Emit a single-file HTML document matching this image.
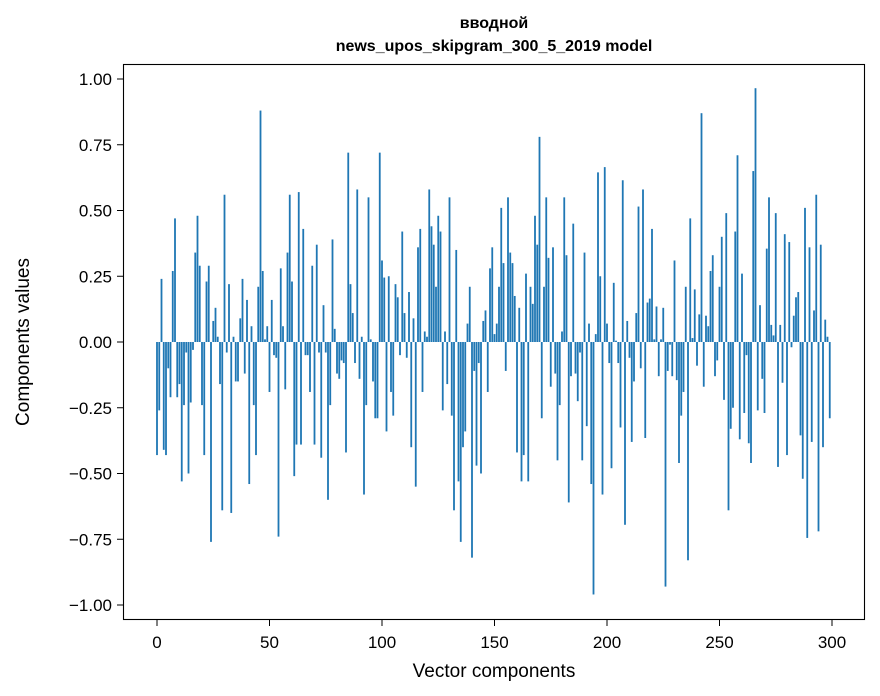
<!DOCTYPE html>
<html><head><meta charset="utf-8"><style>
html,body{margin:0;padding:0;background:#fff;}
svg{display:block;font-family:"Liberation Sans","DejaVu Sans",sans-serif;}
</style></head><body>
<svg id="chart" width="880" height="696" viewBox="0 0 880 696" xmlns="http://www.w3.org/2000/svg">
<rect width="880" height="696" fill="#fff"/>
<text x="494" y="28" text-anchor="middle" font-size="16" font-weight="bold" font-family="Liberation Sans, Noto Sans CJK SC, sans-serif">вводной</text>
<text x="494" y="51" text-anchor="middle" font-size="16" font-weight="bold">news_upos_skipgram_300_5_2019 model</text>
<g id="bars"></g>
<g id="xticks"></g>
<g id="yticks"></g>
<rect x="123.5" y="64.5" width="741" height="555" fill="none" stroke="#000" stroke-width="1.1"/>
<text x="494" y="677" text-anchor="middle" font-size="19">Vector components</text>
<text transform="translate(29,342) rotate(-90)" text-anchor="middle" font-size="19">Components values</text>
</svg>
<script>
const values = [
-0.43,-0.26,0.24,-0.41,-0.43,-0.10,-0.21,0.27,0.47,-0.21,-0.16,-0.53,-0.24,-0.04,-0.50,-0.23,-0.03,0.34,0.48,0.29,
-0.24,-0.43,0.23,0.29,-0.76,0.08,0.13,0.02,-0.16,-0.64,0.56,-0.04,0.22,-0.65,0.02,-0.15,-0.15,0.09,0.24,-0.12,
0.16,-0.54,0.06,-0.24,-0.43,0.21,0.88,0.27,0.01,0.06,
-0.19,0.16,-0.05,-0.06,-0.74,0.28,0.06,-0.18,0.34,0.56,0.23,-0.51,-0.39,0.57,-0.39,0.43,-0.05,-0.05,-0.19,0.29,
-0.39,0.37,-0.04,-0.44,0.14,-0.04,-0.60,-0.24,0.39,0.05,-0.12,-0.14,-0.07,-0.08,-0.42,0.72,0.22,0.11,-0.08,0.58,
-0.14,0.02,-0.58,-0.24,0.55,0.01,-0.15,-0.29,-0.29,0.72,
0.31,0.245,-0.34,0.25,-0.19,-0.28,0.22,0.17,-0.05,0.42,0.11,-0.06,0.19,-0.40,0.09,-0.55,0.36,0.43,-0.19,0.04,
0.02,0.58,0.44,0.37,0.21,0.48,0.42,-0.26,0.04,-0.16,0.55,-0.28,-0.64,0.35,-0.53,-0.76,-0.40,-0.34,0.07,0.21,
-0.82,-0.11,-0.47,-0.08,-0.50,0.08,0.12,-0.19,0.28,0.36,
0.03,0.07,0.21,0.51,0.30,-0.11,0.55,0.34,0.30,0.175,-0.42,0.13,-0.53,-0.43,0.26,-0.53,0.21,0.145,0.48,0.37,
0.78,-0.29,0.21,0.55,0.32,-0.17,0.36,-0.12,-0.45,-0.24,0.04,0.55,0.33,-0.61,-0.13,0.45,-0.12,-0.225,-0.04,-0.45,
0.34,-0.32,0.07,-0.54,-0.96,0.03,0.645,0.25,-0.58,0.665,
0.07,-0.08,-0.48,0.225,0.005,-0.08,-0.325,0.615,-0.695,0.08,-0.06,-0.38,-0.15,0.11,0.515,-0.10,0.58,-0.365,0.15,0.165,
0.43,0.01,0.135,-0.13,0.01,0.13,-0.93,-0.11,-0.01,-0.13,0.31,-0.145,-0.46,-0.28,-0.19,0.21,-0.83,0.47,0.015,0.20,
-0.09,0.105,0.87,-0.17,0.10,0.06,0.27,0.33,-0.13,-0.07,
0.21,0.40,-0.22,0.49,-0.64,-0.33,-0.25,0.42,0.71,-0.37,0.26,-0.27,-0.05,-0.385,-0.46,0.65,0.965,-0.26,0.14,-0.14,
-0.27,0.355,0.55,0.065,0.025,0.49,-0.475,0.065,-0.155,0.41,-0.43,0.38,-0.02,0.10,0.17,0.19,-0.355,-0.52,0.51,-0.745,
0.36,-0.38,0.12,0.56,-0.72,0.37,-0.40,0.085,0.02,-0.29
];
const xTickValues = [0,50,100,150,200,250,300];
const yTickValues = [-1.00,-0.75,-0.50,-0.25,0.00,0.25,0.50,0.75,1.00];
const yTickLabels = ["\u22121.00","\u22120.75","\u22120.50","\u22120.25","0.00","0.25","0.50","0.75","1.00"];

const NS = "http://www.w3.org/2000/svg";
function xScale(v){ return 157 + v * 2.25; }
function yScale(v){ return 342 - v * 263; }

const barsG = document.getElementById('bars');
values.forEach((v,i)=>{
  const r = document.createElementNS(NS,'rect');
  const x0 = xScale(i - 0.4), x1 = xScale(i + 0.4);
  const y0 = yScale(Math.max(v,0)), y1 = yScale(Math.min(v,0));
  r.setAttribute('x', x0);
  r.setAttribute('width', x1 - x0);
  r.setAttribute('y', y0);
  r.setAttribute('height', Math.max(y1 - y0, 0.3));
  r.setAttribute('fill', '#1f77b4');
  
  
  barsG.appendChild(r);
});

const xg = document.getElementById('xticks');
xTickValues.forEach(t=>{
  const x = xScale(t);
  const l = document.createElementNS(NS,'line');
  l.setAttribute('x1',x);l.setAttribute('x2',x);l.setAttribute('y1',620);l.setAttribute('y2',626);
  l.setAttribute('stroke','#000');
  
  
  xg.appendChild(l);
  const tx = document.createElementNS(NS,'text');
  tx.setAttribute('x',x);tx.setAttribute('y',648);tx.setAttribute('text-anchor','middle');tx.setAttribute('font-size','17');
  tx.textContent = String(t);
  
  
  xg.appendChild(tx);
});
const yg = document.getElementById('yticks');
yTickValues.forEach((t,i)=>{
  const y = yScale(t);
  const l = document.createElementNS(NS,'line');
  l.setAttribute('x1',117);l.setAttribute('x2',123);l.setAttribute('y1',y);l.setAttribute('y2',y);
  l.setAttribute('stroke','#000');
  
  
  yg.appendChild(l);
  const tx = document.createElementNS(NS,'text');
  tx.setAttribute('x',112);tx.setAttribute('y',y+6);tx.setAttribute('text-anchor','end');tx.setAttribute('font-size','17');
  tx.textContent = yTickLabels[i];
  
  
  yg.appendChild(tx);
});
</script>
</body></html>
